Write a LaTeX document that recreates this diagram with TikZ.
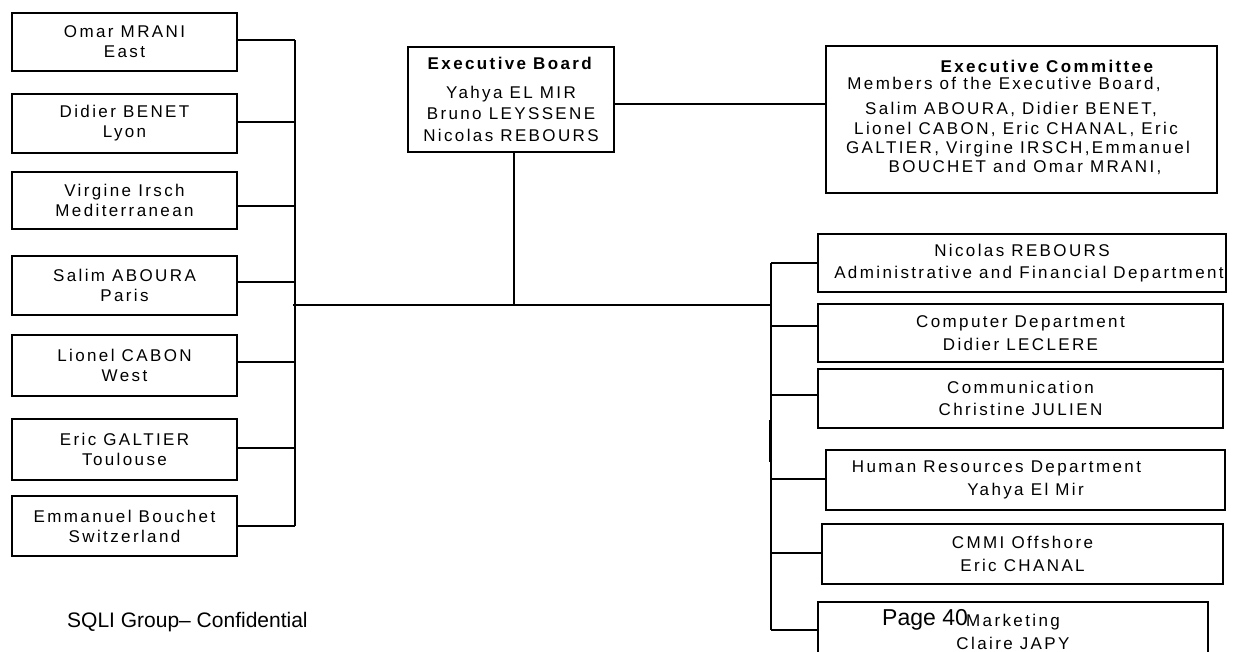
\documentclass[tikz,border=0pt]{standalone}
\usepackage{fontspec}
\setmainfont{Liberation Sans}[LetterSpace=14]
\newfontfamily\plainfont{Liberation Sans}
\begin{document}
\begin{tikzpicture}[x=1pt,y=-1pt,
  box/.style={draw,line width=1.5pt,inner sep=0pt,align=center,font=\fontsize{17}{20}\selectfont},
  rbox/.style={box,font=\fontsize{17}{22.5}\selectfont},
  lbox/.style={box,minimum width=225pt},
  ln/.style={line width=1.5pt},
  txt/.style={inner sep=0pt,font=\fontsize{17}{20}\selectfont,anchor=base},
  foot/.style={inner sep=0pt,font=\plainfont\fontsize{21}{24}\selectfont,anchor=base west}]
\useasboundingbox (0,0) rectangle (1234,651);
% left boxes
\node[lbox,minimum height=58pt] (l1) at (124.5,42) {Omar MRANI\\East};
\node[lbox,minimum height=59pt] (l2) at (124.5,123.5) {Didier BENET\\Lyon};
\node[lbox,minimum height=57pt] (l3) at (124.5,200.5) {Virgine Irsch\\Mediterranean};
\node[lbox,minimum height=59pt] (l4) at (124.5,285.5) {Salim ABOURA\\Paris};
\node[lbox,minimum height=61pt] (l5) at (124.5,365.5) {Lionel CABON\\West};
\node[lbox,minimum height=61pt] (l6) at (124.5,449.5) {Eric GALTIER\\Toulouse};
\node[lbox,minimum height=60pt] (l7) at (124.5,526) {Emmanuel Bouchet\\Switzerland};
% executive board
\node[box,minimum width=206pt,minimum height=105pt,font=\fontsize{17}{21.5}\selectfont] (eb) at (511,99.5)
  {\textbf{Executive Board}\\[7pt]Yahya EL MIR\\Bruno LEYSSENE\\Nicolas REBOURS};
% executive committee
\node[box,minimum width=391pt,minimum height=147pt] (ec) at (1021.5,119.5) {};
\node[txt] (ec1) at (1048,72) {\textbf{Executive Committee}};
\node[txt] (ec2) at (1004,89) {Members of the Executive Board,};
\node[txt] (ec3) at (1011,114) {Salim ABOURA, Didier BENET,};
\node[txt] (ec4) at (1016,134) {Lionel CABON, Eric CHANAL, Eric};
\node[txt] (ec5) at (1018,153) {GALTIER, Virgine IRSCH,Emmanuel};
\node[txt] (ec6) at (1025,172) {BOUCHET and Omar MRANI,};
% right boxes
\node[rbox,minimum width=408pt,minimum height=58pt] (r1) at (1022,263) {Nicolas REBOURS\\\hspace*{14pt}Administrative and Financial Department};
\node[rbox,minimum width=405pt,minimum height=58pt] (r2) at (1020.5,333) {Computer Department\\Didier LECLERE};
\node[rbox,minimum width=405pt,minimum height=59pt] (r3) at (1020.5,398.5) {Communication\\Christine JULIEN};
\node[rbox,minimum width=399pt,minimum height=60pt] (r4) at (1025.5,480) {Human Resources Department\hspace*{58pt}\\Yahya El Mir};
\node[rbox,minimum width=401pt,minimum height=60pt] (r5) at (1022.5,554) {CMMI Offshore\\Eric CHANAL};
\node[rbox,minimum width=390pt,minimum height=60pt] (r6) at (1013,632) {Marketing\\Claire JAPY};
% footer texts
\node[foot] (conf) at (67,627) {SQLI Group– Confidential};
\node[foot,font=\plainfont\fontsize{23}{26}\selectfont] (page) at (882,625) {Page 40};
% coordinates
\coordinate (ebj) at (614,104);
\coordinate (ebd) at (514,305);
\coordinate (hl) at (293,305);
\coordinate (hr) at (771,305);
\coordinate (lt) at (295,40);
\coordinate (lb) at (295,526);
\coordinate (rt) at (771,263);
\coordinate (rb) at (771,630);
\coordinate (jog1) at (769.5,420);
\coordinate (jog2) at (769.5,462);
\coordinate (jl1) at (295,40);
\coordinate (jl2) at (295,122);
\coordinate (jl3) at (295,206);
\coordinate (jl4) at (295,282);
\coordinate (jl5) at (295,362);
\coordinate (jl6) at (295,448);
\coordinate (jl7) at (295,526);
\coordinate (jr1) at (771,263);
\coordinate (jr2) at (771,326);
\coordinate (jr3) at (771,395);
\coordinate (jr4) at (771,479);
\coordinate (jr5) at (771,553);
\coordinate (jr6) at (771,630);
% connectors
\draw[ln] (ebj) -- (ebj -| ec.west);
\draw[ln] (ebd |- eb.south) -- (ebd);
\draw[ln] (hl) -- (hr);
\draw[ln] (lt) -- (lb);
\draw[ln] (rt) -- (rb);
\draw[ln] (jog1) -- (jog2);
\foreach \i in {1,...,7} {\draw[ln] (l\i.east |- jl\i) -- (jl\i);}
\foreach \i in {1,...,6} {\draw[ln] (jr\i) -- (jr\i -| r\i.west);}
\end{tikzpicture}
\end{document}
